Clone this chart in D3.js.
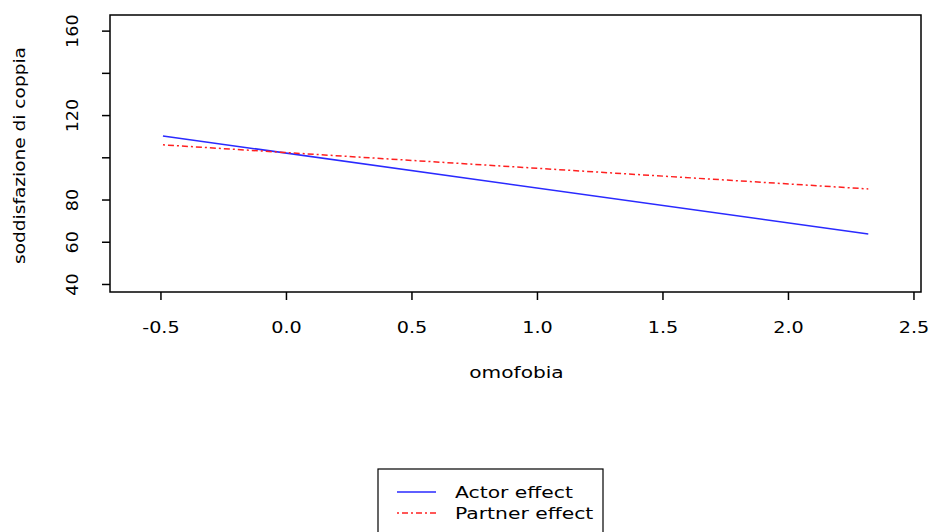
<!DOCTYPE html>
<html>
<head>
<meta charset="utf-8">
<script src="https://cdn.jsdelivr.net/npm/d3@7"></script>
<style>
  body { margin: 0; background: #fff; }
  svg text { font-family: "DejaVu Sans", sans-serif; fill: #000; }
</style>
</head>
<body>
<div id="chart"></div>
<script>
// data
const omofobia = [-0.49, 2.32];
const actorEffect = [110.1, 63.7];
const partnerEffect = [105.9, 85.0];
const seriesNames = ["Actor effect", "Partner effect"];
const xTicks = [-0.5, 0.0, 0.5, 1.0, 1.5, 2.0, 2.5];
const yTicks = [40, 60, 80, 100, 120, 140, 160];
const yLabelled = [40, 60, 80, 120, 160];

const W = 933, H = 532;
const box = { left: 110, right: 921, top: 15, bottom: 292 };
const stretch = 1.2; // glyphs in the picture are wider than DejaVu

const svg = d3.select("#chart").append("svg")
    .attr("width", W)
    .attr("height", H);

const x = d3.scaleLinear().domain([-0.701, 2.53]).range([box.left, box.right]);
const y = d3.scaleLinear().domain([36.2, 167.4]).range([box.bottom, box.top]);

// x axis
const xAxis = svg.append("g")
    .attr("transform", `translate(0,${box.bottom})`)
    .call(d3.axisBottom(x).tickValues(xTicks).tickFormat(d => d.toFixed(1)).tickSize(8));
xAxis.select(".domain").remove();
xAxis.selectAll("line").attr("stroke", "#000").attr("stroke-width", 1.5);
xAxis.selectAll("text")
    .attr("y", 41).attr("dy", null)
    .attr("transform", `scale(${stretch},1)`)
    .style("font-size", "16px")
    .style("font-family", "DejaVu Sans");

// y axis
const yAxis = svg.append("g")
    .attr("transform", `translate(${box.left},0)`)
    .call(d3.axisLeft(y).tickValues(yTicks).tickSize(8).tickFormat(d => yLabelled.includes(d) ? d : ""));
yAxis.select(".domain").remove();
yAxis.selectAll("line").attr("stroke", "#000").attr("stroke-width", 1.5);
yAxis.selectAll("text")
    .style("font-size", "16px")
    .style("font-family", "DejaVu Sans")
    .attr("text-anchor", "middle")
    .attr("x", 0).attr("y", 0).attr("dy", null)
    .attr("transform", `translate(-32,0) rotate(-90) scale(1.1,1)`);

// plot box
svg.append("rect")
    .attr("x", box.left).attr("y", box.top)
    .attr("width", box.right - box.left).attr("height", box.bottom - box.top)
    .attr("fill", "none").attr("stroke", "#000").attr("stroke-width", 1.5);

// lines
const line = d3.line().x(d => x(d[0])).y(d => y(d[1]));
svg.append("path")
    .datum(d3.zip(omofobia, actorEffect))
    .attr("d", line)
    .attr("fill", "none").attr("stroke", "#2a2aff").attr("stroke-width", 1.5);
svg.append("path")
    .datum(d3.zip(omofobia, partnerEffect))
    .attr("d", line)
    .attr("fill", "none").attr("stroke", "#ff2020").attr("stroke-width", 1.5)
    .attr("stroke-dasharray", "2,3,6,3");

// axis titles
svg.append("text")
    .attr("transform", `translate(${(box.left + box.right) / 2 + 1},378) scale(1.26,1)`)
    .attr("text-anchor", "middle")
    .style("font-size", "16px")
    .text("omofobia");
svg.append("text")
    .attr("transform", `translate(25,155.5) rotate(-90) scale(1.16,1)`)
    .attr("text-anchor", "middle")
    .style("font-size", "16px")
    .text("soddisfazione di coppia");

// legend
const legend = svg.append("g");
legend.append("rect")
    .attr("x", 378).attr("y", 469).attr("width", 225).attr("height", 70)
    .attr("fill", "none").attr("stroke", "#000").attr("stroke-width", 1.2);
const legendStyles = [
    { color: "#2a2aff", dash: null },
    { color: "#ff2020", dash: "2,3,6,3" }
];
seriesNames.forEach((name, i) => {
    const ly = 492 + i * 21;
    legend.append("line")
        .attr("x1", 397).attr("x2", 436).attr("y1", ly).attr("y2", ly)
        .attr("stroke", legendStyles[i].color).attr("stroke-width", 1.5)
        .attr("stroke-dasharray", legendStyles[i].dash);
    legend.append("text")
        .attr("transform", `translate(455,${ly + 6}) scale(1.27,1)`)
        .style("font-size", "16px")
        .text(name);
});
</script>
</body>
</html>
